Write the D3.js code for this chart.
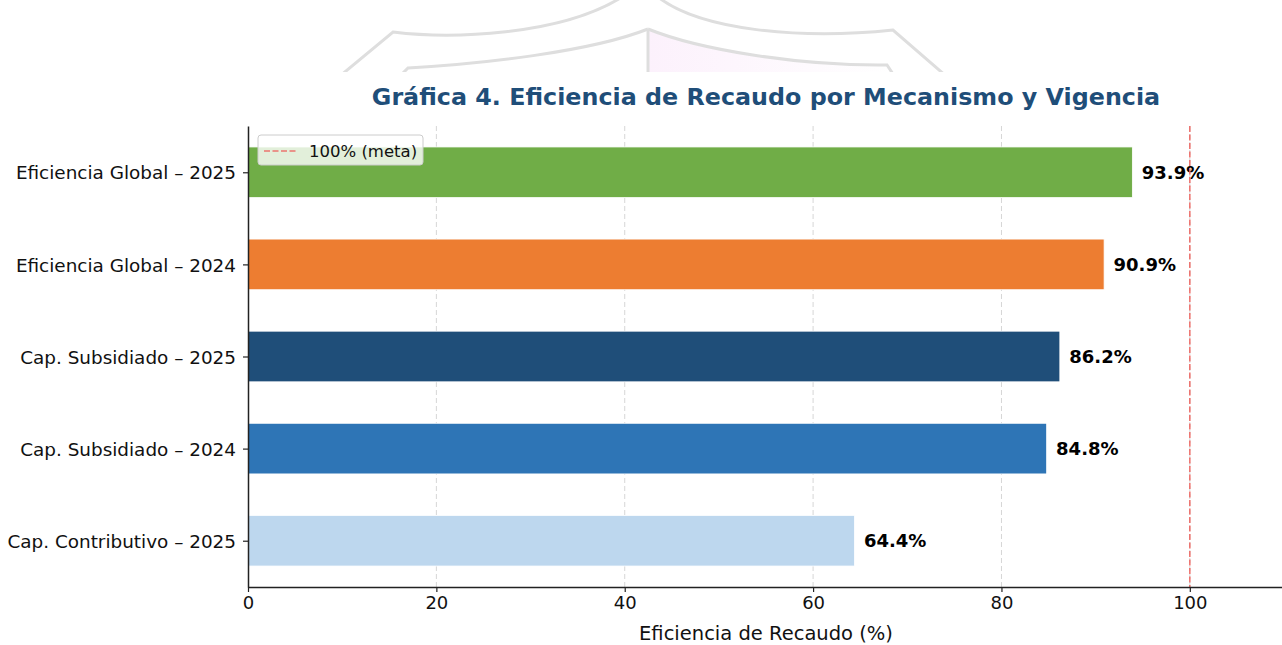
<!DOCTYPE html>
<html>
<head>
<meta charset="utf-8">
<script src="https://cdn.jsdelivr.net/npm/d3@7"></script>
<style>
  html, body { margin: 0; padding: 0; background: #ffffff; }
  svg { display: block; font-family: "DejaVu Sans", sans-serif; }
</style>
</head>
<body>
<svg id="chart" width="1282" height="645"></svg>
<script>
// Collection efficiency by mechanism and period (%)
const categories = [
  "Eficiencia Global – 2025",
  "Eficiencia Global – 2024",
  "Cap. Subsidiado – 2025",
  "Cap. Subsidiado – 2024",
  "Cap. Contributivo – 2025"
];
const values = [93.9, 90.9, 86.2, 84.8, 64.4];
const barColors = ["#70ad47", "#ed7d31", "#1f4e79", "#2e75b6", "#bdd7ee"];
const xTicks = [0, 20, 40, 60, 80, 100];
const target = 100;
const titleText = "Gráfica 4. Eficiencia de Recaudo por Mecanismo y Vigencia";
const xLabel = "Eficiencia de Recaudo (%)";
const legendLabel = "100% (meta)";

const svg = d3.select("#chart");

// Faint letterhead emblem behind the top of the page
const defs = svg.append("defs");
defs.append("clipPath").attr("id", "wmclip")
  .append("rect").attr("x", 0).attr("y", 0).attr("width", 1282).attr("height", 72);
const grad = defs.append("linearGradient").attr("id", "pinkfade")
  .attr("x1", "0%").attr("x2", "100%").attr("y1", "0%").attr("y2", "0%");
grad.append("stop").attr("offset", "0%").attr("stop-color", "#fcf1fc");
grad.append("stop").attr("offset", "100%").attr("stop-color", "#ffffff");
const wm = svg.append("g").attr("clip-path", "url(#wmclip)");
wm.append("path")
  .attr("d", "M648,29 C700,50 800,66 887,65 L893,74 L648,74 Z")
  .attr("fill", "url(#pinkfade)");
const wmPaths = [
  "M340,76 L393,32 C450,39 560,36 622,-3",
  "M402,74 L408,68 C480,64 590,52 648,29",
  "M648,29 C700,50 800,66 887,65 L893,74",
  "M658,-3 C700,30 800,40 893,30 L946,76",
  "M648,29 L648,76"
];
wm.selectAll("path.wm").data(wmPaths).join("path")
  .attr("class", "wm")
  .attr("d", d => d)
  .attr("fill", "none")
  .attr("stroke", "#dedede")
  .attr("stroke-width", 3);

// Plot geometry
const plotLeft = 248, plotRight = 1284, plotTop = 126, plotBottom = 587;
const barH = 0.55;
const n = categories.length;

const x = d3.scaleLinear().domain([0, 110]).range([plotLeft, plotRight]);
// index 0 at top, index n-1 at bottom
const yPos = d3.scaleLinear()
  .domain([n - 1 + barH / 2 + 0.2275, -barH / 2 - 0.2275])
  .range([plotBottom, plotTop]);

const plot = svg.append("g");

// Vertical grid lines
plot.selectAll("line.grid").data(xTicks.filter(t => t > 0)).join("line")
  .attr("class", "grid")
  .attr("x1", d => x(d)).attr("x2", d => x(d))
  .attr("y1", plotTop).attr("y2", plotBottom)
  .attr("stroke", "#d6d6d6")
  .attr("stroke-width", 1)
  .attr("stroke-dasharray", "5,3");

// Bars
const bandPx = Math.abs(yPos(0) - yPos(1)) * barH;
plot.selectAll("rect.bar").data(values).join("rect")
  .attr("class", "bar")
  .attr("x", x(0))
  .attr("y", (d, i) => yPos(i) - bandPx / 2)
  .attr("width", d => x(d) - x(0))
  .attr("height", bandPx)
  .attr("fill", (d, i) => barColors[i])
  .attr("stroke", "#ffffff")
  .attr("stroke-width", 0.8);

// Value labels
plot.selectAll("text.val").data(values).join("text")
  .attr("class", "val")
  .attr("x", d => x(d + 1))
  .attr("y", (d, i) => yPos(i))
  .attr("dy", "0.35em")
  .attr("font-size", 18)
  .attr("font-weight", "bold")
  .attr("fill", "#000")
  .text(d => d.toFixed(1) + "%");

// Target line
plot.append("line")
  .attr("x1", x(target)).attr("x2", x(target))
  .attr("y1", plotTop).attr("y2", plotBottom)
  .attr("stroke", "#ec5f5a")
  .attr("stroke-opacity", 0.85)
  .attr("stroke-width", 1.6)
  .attr("stroke-dasharray", "6,2.5");

// Axes
const xAxis = d3.axisBottom(x).tickValues(xTicks).tickFormat(d3.format("d"))
  .tickSize(5).tickSizeOuter(0).tickPadding(4);
const gx = svg.append("g").attr("transform", `translate(0,${plotBottom})`).call(xAxis);
gx.select(".domain").attr("stroke", "#222").attr("stroke-width", 1.5);
gx.selectAll(".tick line").attr("stroke", "#222").attr("stroke-width", 1.2);
gx.selectAll(".tick text").attr("font-size", 18).attr("fill", "#111")
  .attr("font-family", "DejaVu Sans");

const yAxis = d3.axisLeft(yPos).tickValues(d3.range(n)).tickFormat(i => categories[i])
  .tickSize(5).tickSizeOuter(0).tickPadding(7);
const gy = svg.append("g").attr("transform", `translate(${plotLeft},0)`).call(yAxis);
gy.select(".domain").attr("stroke", "#222").attr("stroke-width", 1.5);
gy.selectAll(".tick line").attr("stroke", "#222").attr("stroke-width", 1.2);
gy.selectAll(".tick text").attr("font-size", 18.4).attr("fill", "#111")
  .attr("dy", "0.36em")
  .attr("font-family", "DejaVu Sans");

// Title
svg.append("text")
  .attr("x", (plotLeft + plotRight) / 2).attr("y", 105)
  .attr("text-anchor", "middle")
  .attr("font-size", 23.8)
  .attr("font-weight", "bold")
  .attr("fill", "#1f4e79")
  .text(titleText);

// Axis label
svg.append("text")
  .attr("x", (plotLeft + plotRight) / 2).attr("y", 640)
  .attr("text-anchor", "middle")
  .attr("font-size", 19.5)
  .attr("fill", "#111")
  .text(xLabel);

// Legend
const lg = svg.append("g");
lg.append("rect")
  .attr("x", 258).attr("y", 135).attr("width", 165).attr("height", 30)
  .attr("rx", 3)
  .attr("fill", "#ffffff").attr("fill-opacity", 0.8)
  .attr("stroke", "#cccccc").attr("stroke-width", 1);
lg.append("line")
  .attr("x1", 264).attr("x2", 298).attr("y1", 151).attr("y2", 151)
  .attr("stroke", "#ec5f5a").attr("stroke-opacity", 0.85)
  .attr("stroke-width", 1.6).attr("stroke-dasharray", "6,2.5");
lg.append("text")
  .attr("x", 309).attr("y", 151).attr("dy", "0.35em")
  .attr("font-size", 16.5).attr("fill", "#111")
  .text(legendLabel);
</script>
</body>
</html>
